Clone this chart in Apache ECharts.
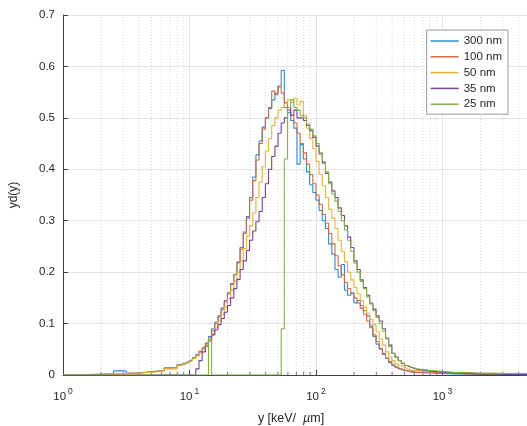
<!DOCTYPE html>
<html><head><meta charset="utf-8">
<script src="https://cdn.jsdelivr.net/npm/echarts@6/dist/echarts.min.js"></script>
<style>html,body{margin:0;padding:0;background:#fff}#c{width:527px;height:426px}</style>
</head><body><div id="c"></div>
<script>
// histogram bin edges (keV/um), log spaced: coarse tails, 0.025-decade core
const binEdges = [
  1, 1.259, 1.585, 1.995, 2.512, 3.162, 3.981, 5.012, 6.310,
  7.943, 8.414, 8.913, 9.441, 10, 10.59, 11.22, 11.89, 12.59, 13.34,
  14.13, 14.96, 15.85, 16.79, 17.78, 18.84, 19.95, 21.13, 22.39, 23.71,
  25.12, 26.61, 28.18, 29.85, 31.62, 33.50, 35.48, 37.58, 39.81, 42.17,
  44.67, 47.32, 50.12, 53.09, 56.23, 59.57, 63.10, 66.83, 70.79, 74.99,
  79.43, 84.14, 89.13, 94.41, 100, 105.9, 112.2, 118.9, 125.9, 133.4,
  141.3, 149.6, 158.5, 167.9, 177.8, 188.4, 199.5, 211.3, 223.9, 237.1,
  251.2, 266.1, 281.8, 298.5, 316.2, 335.0, 354.8, 375.8, 398.1, 421.7,
  446.7, 473.2, 501.2, 530.9, 562.3, 595.7, 631.0,
  794.3, 1000, 1259, 1585, 1995, 2512, 3162, 3981, 5012
];
const seriesNames = ['300 nm', '100 nm', '50 nm', '35 nm', '25 nm'];
const seriesColors = ['#2f8ccc', '#cf6a3e', '#e8b33a', '#7b3f92', '#82b244'];

const yd300 = [
  0.001,0.001,0.002,0.002,0.008,0.004,0.006,0.009,0.014,
  0.020,0.022,0.024,0.027,0.030,0.034,0.040,0.046,0.053,0.062,
  0.075,0.090,0.103,0.115,0.130,0.145,0.160,0.178,0.196,0.220,
  0.248,0.278,0.308,0.345,0.385,0.428,0.455,0.482,0.500,0.518,
  0.535,0.548,0.562,0.592,0.520,0.510,0.495,0.480,0.410,0.448,
  0.420,0.395,0.370,0.355,0.340,0.320,0.300,0.285,0.255,0.235,
  0.205,0.190,0.215,0.165,0.155,0.160,0.140,0.145,0.135,0.125,
  0.115,0.095,0.075,0.060,0.050,0.040,0.032,0.024,0.018,0.014,
  0.011,0.009,0.008,0.006,0.005,0.005,
  0.004,0.003,0.002,0.002,0.001,0.001,0.001,0.001,0.000
];
const yd100 = [
  0.001,0.001,0.001,0.002,0.003,0.004,0.006,0.009,0.013,
  0.019,0.021,0.023,0.026,0.029,0.033,0.038,0.045,0.052,0.060,
  0.072,0.086,0.100,0.113,0.127,0.142,0.158,0.176,0.195,0.218,
  0.245,0.275,0.305,0.340,0.378,0.418,0.450,0.478,0.500,0.520,
  0.552,0.545,0.560,0.548,0.530,0.515,0.505,0.490,0.470,0.450,
  0.432,0.410,0.390,0.372,0.350,0.332,0.312,0.295,0.275,0.255,
  0.232,0.212,0.195,0.180,0.168,0.158,0.150,0.140,0.130,0.118,
  0.105,0.092,0.078,0.065,0.052,0.042,0.033,0.026,0.020,0.016,
  0.012,0.010,0.008,0.007,0.006,0.005,
  0.006,0.004,0.003,0.002,0.002,0.001,0.001,0.001,0.001
];
const yd50 = [
  0.001,0.001,0.001,0.002,0.003,0.004,0.005,0.008,0.012,
  0.018,0.020,0.022,0.025,0.028,0.032,0.037,0.043,0.050,0.058,
  0.068,0.080,0.092,0.105,0.118,0.132,0.148,0.165,0.182,0.200,
  0.222,0.246,0.270,0.290,0.315,0.345,0.375,0.405,0.435,0.460,
  0.485,0.500,0.515,0.520,0.528,0.535,0.530,0.538,0.525,0.532,
  0.505,0.480,0.460,0.440,0.415,0.390,0.368,0.345,0.322,0.305,
  0.285,0.262,0.240,0.220,0.200,0.185,0.170,0.158,0.145,0.132,
  0.120,0.108,0.098,0.085,0.070,0.058,0.045,0.035,0.028,0.022,
  0.018,0.015,0.012,0.010,0.009,0.008,
  0.008,0.006,0.005,0.004,0.003,0.003,0.002,0.002,0.002
];
const yd35 = [
  0,0,0,0,0,0,0,0,0,
  0,0,0,0,0,0,0.012,0.028,0.045,0.056,
  0.066,0.078,0.088,0.098,0.110,0.122,0.135,0.150,0.168,0.186,
  0.205,0.222,0.242,0.262,0.280,0.298,0.318,0.345,0.372,0.400,
  0.425,0.445,0.470,0.490,0.500,0.520,0.505,0.515,0.500,0.500,
  0.495,0.485,0.475,0.462,0.445,0.430,0.412,0.392,0.375,0.358,
  0.345,0.325,0.310,0.290,0.268,0.248,0.222,0.205,0.185,0.170,
  0.155,0.140,0.128,0.115,0.105,0.090,0.072,0.058,0.042,0.035,
  0.028,0.022,0.018,0.015,0.013,0.011,
  0.008,0.005,0.004,0.003,0.002,0.002,0.001,0.001,0.001
];
const yd25 = [
  0,0,0,0,0,0,0,0,0,
  0,0,0,0,0,0,0,0,0,0,
  0.070,0,0,0,0,0,0,0,0,0,
  0,0,0,0,0,0,0,0,0,0,
  0,0,0,0.090,0.420,0.520,0.535,0.520,0.515,0.505,
  0.500,0.488,0.478,0.465,0.450,0.432,0.415,0.395,0.372,0.352,
  0.338,0.318,0.300,0.282,0.262,0.240,0.218,0.200,0.182,0.168,
  0.152,0.138,0.125,0.112,0.100,0.085,0.070,0.055,0.042,0.034,
  0.028,0.023,0.019,0.016,0.014,0.012,
  0.009,0.007,0.005,0.005,0.004,0.004,0.003,0.003,0.003
];
const seriesValues = [yd300, yd100, yd50, yd35, yd25];

// minor (2..9 x decade) gridline positions on the log x-axis
const minorX = [2,3,4,5,6,7,8,9,20,30,40,50,60,70,80,90,200,300,400,500,600,700,800,900,2000,3000,4000];
const xMin = 1, xMax = 4660, yMin = 0, yMax = 0.7, yStep = 0.1;

const FONT = "'Liberation Sans', Arial, Helvetica, sans-serif";
const TXT = '#262626';

function histData(vals) {
  const d = [];
  for (let i = 0; i < vals.length; i++) d.push([binEdges[i], vals[i]]);
  d.push([binEdges[vals.length], vals[vals.length - 1]]);
  return d;
}
function vLines(xs, y0, y1) {
  const d = [];
  xs.forEach(v => { d.push([v, y0]); d.push([v, y1]); d.push([v, '-']); });
  return d;
}

const series = [
  { name: '_minorGrid', type: 'line', data: vLines(minorX, yMin, yMax), symbol: 'none', silent: true, z: 1,
    connectNulls: false, lineStyle: { color: '#cdcdcd', width: 0.8, type: [1, 2] } },
  { name: '_minorTick', type: 'line', data: vLines(minorX, yMin, 0.006), symbol: 'none', silent: true, z: 1,
    connectNulls: false, lineStyle: { color: '#555', width: 0.8 } }
];
seriesNames.forEach((n, k) => {
  series.push({ name: n, type: 'line', step: 'end', data: histData(seriesValues[k]),
    symbol: 'none', showSymbol: false, color: seriesColors[k],
    lineStyle: { width: 1.1, color: seriesColors[k] } });
});

const chart = echarts.init(document.getElementById('c'), null, { renderer: 'canvas' });
chart.setOption({
  animation: false,
  backgroundColor: '#fff',
  textStyle: { fontFamily: FONT },
  grid: { left: 63, right: 0, top: 15, bottom: 51, containLabel: false, outerBoundsMode: 'none' },
  legend: {
    data: seriesNames, orient: 'vertical', right: 19, top: 30,
    icon: 'rect', itemWidth: 28, itemHeight: 1.5, itemGap: 3.8,
    padding: [5, 6, 4, 4], borderColor: '#808080', borderWidth: 0.8, backgroundColor: '#fff',
    textStyle: { fontSize: 11.5, color: TXT, fontFamily: FONT, lineHeight: 12 }
  },
  xAxis: {
    type: 'log', logBase: 10, min: xMin, max: xMax,
    name: 'y [keV/  {i|µ}m]', nameLocation: 'middle', nameGap: 37,
    nameTextStyle: { fontSize: 12.5, color: TXT, fontFamily: FONT, padding: [0, 8, 0, 0],
      rich: { i: { fontStyle: 'italic', fontSize: 12.5, color: TXT, fontFamily: FONT } } },
    axisLine: { lineStyle: { color: '#404040', width: 1 } },
    axisTick: { inside: true, length: 5, lineStyle: { color: '#404040' } },
    splitLine: { show: true, lineStyle: { color: '#e3e3e3', width: 1 } },
    axisLabel: {
      margin: 12, color: TXT, fontSize: 11.5, fontFamily: FONT,
      formatter: function (v) {
        const l = Math.log10(v), e = Math.round(l);
        if (Math.abs(l - e) > 1e-6) return '';
        return '{b|10}{s|' + e + '}';
      },
      rich: {
        b: { fontSize: 11.5, color: TXT, fontFamily: FONT, verticalAlign: 'bottom', lineHeight: 16 },
        s: { fontSize: 8.5, color: TXT, fontFamily: FONT, verticalAlign: 'top', lineHeight: 16, padding: [0, 0, 0, 2] }
      }
    }
  },
  yAxis: {
    type: 'value', min: yMin, max: yMax, interval: yStep,
    name: 'yd(y)', nameLocation: 'middle', nameGap: 43,
    nameTextStyle: { fontSize: 12, color: TXT, fontFamily: FONT },
    axisLine: { show: true, lineStyle: { color: '#404040', width: 1 } },
    axisTick: { show: true, inside: true, length: 5, lineStyle: { color: '#404040' } },
    splitLine: { show: true, lineStyle: { color: '#e3e3e3', width: 1 } },
    axisLabel: { margin: 8, color: TXT, fontSize: 11.5, fontFamily: FONT,
      formatter: v => (Math.abs(v) < 1e-9 ? '0' : String(+v.toFixed(1))) }
  },
  series: series
});
</script></body></html>
